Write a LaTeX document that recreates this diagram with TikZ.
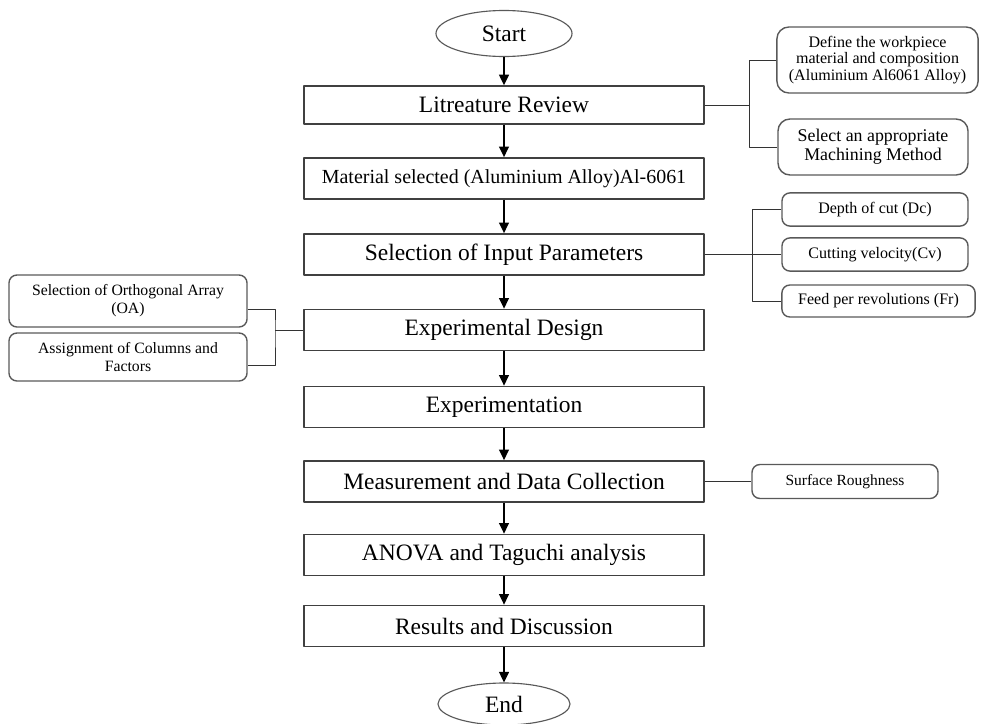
\documentclass[tikz,border=0pt]{standalone}
\usepackage{fontspec}
\setmainfont{Liberation Serif}
\usetikzlibrary{arrows.meta,shapes.geometric}
\tikzset{
	mainbox/.style={draw=black!75, line width=1.1pt, minimum width=10cm, minimum height=1.03cm, inner sep=0pt, font=\fontsize{16.7}{18}\selectfont},
	term/.style={draw=black!65, ellipse, line width=0.8pt, minimum width=3.4cm, minimum height=1.15cm, inner sep=0pt, font=\fontsize{16.7}{18}\selectfont},
	sidebox/.style={draw=black!65, rounded corners=0.2cm, line width=1pt, inner sep=0pt, align=center, font=\fontsize{11.4}{11.8}\selectfont},
	link/.style={draw=black!80, line width=0.7pt},
	flow/.style={->, line width=1.2pt}
}
\begin{document}
\begin{tikzpicture}[x=0.025cm, y=-0.025cm, line join=round, >={Triangle[length=7.5pt,width=7pt]}]
	\useasboundingbox (0,0) rectangle (983,723);
	% main column
	\node[term] (start) at (504,33.5) {Start};
	\node[mainbox, minimum height=0.95cm] (lit) at (504,105) {Litreature Review};
	\node[mainbox, font=\fontsize{14.2}{16}\selectfont] (mat) at (504,178.5) {Material selected (Aluminium Alloy)Al-6061};
	\node[mainbox] (sel) at (504,254.5) {Selection of Input Parameters};
	\node[mainbox] (design) at (504,330) {Experimental Design};
	\node[mainbox] (expt) at (504,407) {Experimentation};
	\node[mainbox] (meas) at (504,481.5) {Measurement and Data Collection};
	\node[mainbox] (anova) at (504,555) {ANOVA and Taguchi analysis};
	\node[mainbox] (res) at (504,626) {Results and Discussion};
	\node[term, minimum width=3.3cm, minimum height=1.05cm] (end) at (504,704) {End};
	\foreach \a/\b in {start/lit, lit/mat, mat/sel, sel/design, design/expt, expt/meas, meas/anova, anova/res, res/end}
		\draw[flow] (\a) -- (\b);
	% right side
	\node[sidebox, rounded corners=0.3cm, minimum width=5.03cm, minimum height=1.65cm] (def) at (877.5,60) {Define the workpiece\\material and composition\\(Aluminium Al6061 Alloy)};
	\node[sidebox, rounded corners=0.3cm, minimum width=4.75cm, minimum height=1.4cm, font=\fontsize{12.7}{13.4}\selectfont] (meth) at (873,147) {Select an appropriate\\Machining Method};
	\node[sidebox, minimum width=4.65cm, minimum height=0.83cm] (dep) at (875,209.5) {Depth of cut (Dc)};
	\node[sidebox, minimum width=4.65cm, minimum height=0.83cm] (cv) at (875,254.5) {Cutting velocity(Cv)};
	\node[sidebox, minimum width=4.83cm, minimum height=0.8cm] (feed) at (878.5,301) {Feed per revolutions (Fr)};
	\node[sidebox, minimum width=4.65cm, minimum height=0.85cm, font=\fontsize{11}{12}\selectfont] (sr) at (845,481.5) {Surface Roughness};
	\coordinate (j1) at (749,105);
	\coordinate (j2) at (752,254.5);
	\draw[link] (lit.east) -- (j1);
	\draw[link] (def.west) -| (j1) |- (meth.west);
	\draw[link] (sel.east) -- (cv.west);
	\draw[link] (dep.west) -| (j2) |- (feed.west);
	\draw[link] (meas.east) -- (sr.west);
	% left side
	\node[sidebox, minimum width=5.95cm, minimum height=1.3cm, font=\fontsize{11.2}{12.8}\selectfont] (oa) at (128,301) {Selection of Orthogonal Array\\(OA)};
	\node[sidebox, minimum width=5.95cm, minimum height=1.2cm, font=\fontsize{11.2}{12.8}\selectfont] (asg) at (128,357) {Assignment of Columns and\\Factors};
	\coordinate (j3) at (275,330);
	\draw[link] (design.west) -- (j3);
	\draw[link] ([yshift=-0.2cm]oa.east) -| (j3) |- ([yshift=-0.22cm]asg.east);
\end{tikzpicture}
\end{document}
